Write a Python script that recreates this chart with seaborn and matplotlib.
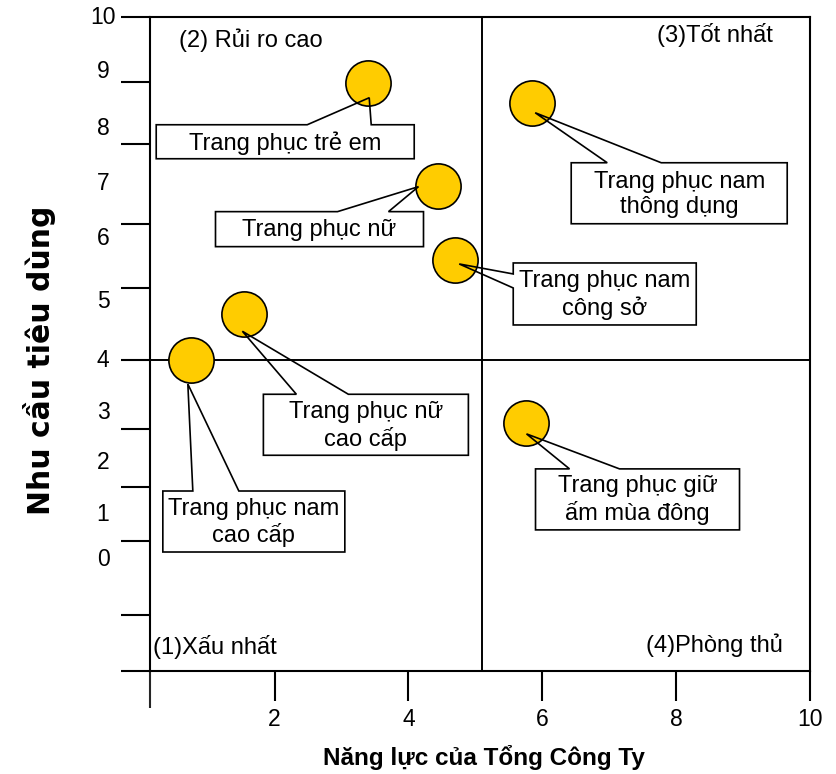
import matplotlib
matplotlib.use("Agg")
import matplotlib.pyplot as plt
import matplotlib.transforms as mtransforms
from matplotlib.patches import Polygon, Rectangle
import pandas as pd
import seaborn as sns

# Product groups positioned by company competence (x) and consumer demand (y)
products = [
    "Trang phục trẻ em",
    "Trang phục nam\nthông dụng",
    "Trang phục nữ",
    "Trang phục nam\ncông sở",
    "Trang phục nữ\ncao cấp",
    "Trang phục nam\ncao cấp",
    "Trang phục giữ\nấm mùa đông",
]
competence = [3.4, 5.85, 4.45, 4.7, 1.55, 0.75, 5.75]
demand = [8.85, 8.5, 7.05, 5.75, 4.8, 4.0, 2.9]

x_ticks = [2, 4, 6, 8, 10]
y_tick_labels = ["10", "9", "8", "7", "6", "5", "4", "3", "2", "1", "0"]
quadrant_labels = ["(1)Xấu nhất", "(2) Rủi ro cao", "(3)Tốt nhất", "(4)Phòng thủ"]
x_split = 5.1
y_split = 4.0

x_title = "Năng lực của Tổng Công Ty"
y_title = "Nhu cầu tiêu dùng"

# ---- layout (hand-drawn axis: tick marks and labels are not evenly spaced) ----
X_LIM = (0.14, 10.0)
Y_LIM = (-1.44, 10.0)
y_mark_pos = [10.0, 8.863, 7.779, 6.379, 5.26, 4.0, 2.793, 1.779, 0.834, -0.46, -1.44]
y_label_pos = [10.0, 9.038, 8.058, 7.096, 6.134, 5.015, 4.0, 3.09, 2.199, 1.289, 0.502]

# callout geometry in pixels relative to each bubble centre (y grows downward):
# box (x0, y0, x1, y1), wedge base on 'top' or 'left' edge, wedge tip
callouts = [
    dict(box=(-212, 42, 46, 76), side="top", base=(-61, 3), tip=(1, 15)),
    dict(box=(39, 60, 255, 121), side="top", base=(75, 129), tip=(3, 10)),
    dict(box=(-223, 26, -15, 61), side="top", base=(-101, -50), tip=(-20, 1)),
    dict(box=(58, 3, 241, 65), side="left", base=(14, 28), tip=(4, 4)),
    dict(box=(19, 80, 224, 141), side="top", base=(52, 104), tip=(-2, 17)),
    dict(box=(-28, 131, 154, 192), side="top", base=(2, 48), tip=(-3, 24)),
    dict(box=(10, 46, 214, 107), side="top", base=(44, 94), tip=(1, 11)),
]

sns.set_theme(style="white")
plt.rcParams["font.family"] = ["Liberation Sans", "DejaVu Sans"]

W, H = 836, 774
fig = plt.figure(figsize=(W / 100, H / 100), dpi=100)
ax = fig.add_axes([150 / W, (H - 671) / H, 660 / W, 654 / H])

df = pd.DataFrame({"product": products, "competence": competence, "demand": demand})

# quadrant dividers
ax.axvline(x_split, color="black", lw=1.4, zorder=2)
ax.axhline(y_split, color="black", lw=1.4, zorder=2)

sns.scatterplot(data=df, x="competence", y="demand", s=1060, color="#FFCC00",
                edgecolor="black", linewidth=1.2, ax=ax, zorder=4, legend=False)

ax.set_xlim(*X_LIM)
ax.set_ylim(*Y_LIM)
ax.set_xlabel("")
ax.set_ylabel("")

for sp in ax.spines.values():
    sp.set_visible(True)
    sp.set_color("black")
    sp.set_linewidth(1.5)

tick_fs = 16.5
ax.set_xticks(x_ticks)
ax.set_xticklabels([str(t) for t in x_ticks])
ax.set_xticks([X_LIM[0]], minor=True)
ax.tick_params(axis="x", which="major", direction="out", length=21.6, width=1.5,
               pad=5, labelsize=tick_fs, colors="black", bottom=True)
ax.tick_params(axis="x", which="minor", direction="out", length=26.6, width=1.5,
               bottom=True)
ax.set_yticks(y_mark_pos)
ax.set_yticklabels([""] * len(y_mark_pos))
ax.tick_params(axis="y", direction="out", length=20.9, width=1.5, left=True,
               colors="black")

ytrans = ax.get_yaxis_transform()
for lab, pos in zip(y_tick_labels, y_label_pos):
    ax.text(-0.0712, pos, lab, transform=ytrans, ha="center", va="center",
            fontsize=tick_fs, color="black")


def px(xp, yp):
    """figure pixel (y measured from top) -> axes fraction"""
    return (xp - 150) / 660, 1 - (yp - 17) / 654


# quadrant names
qfs = 17
for lab, (xp, yp), ha in zip(quadrant_labels,
                             [(153, 654), (179, 47), (773, 42), (783, 652)],
                             ["left", "left", "right", "right"]):
    ax_x, ax_y = px(xp, yp)
    ax.text(ax_x, ax_y, lab, transform=ax.transAxes, fontsize=qfs, ha=ha,
            va="baseline", color="black")

# callout boxes with wedge pointers
for name, cx, cy, c in zip(products, competence, demand, callouts):
    tr = mtransforms.Affine2D().scale(1, -1) + mtransforms.ScaledTranslation(cx, cy, ax.transData)
    x0, y0, x1, y1 = c["box"]
    tx, ty = c["tip"]
    a, b = c["base"]
    if c["side"] == "top":
        pts = [(x0, y0), (a, y0), (tx, ty), (b, y0), (x1, y0), (x1, y1), (x0, y1)]
    else:
        pts = [(x0, y0), (x1, y0), (x1, y1), (x0, y1), (x0, b), (tx, ty), (x0, a)]
    ax.add_patch(Rectangle((x0, y0), x1 - x0, y1 - y0, transform=tr,
                           facecolor="white", edgecolor="none", zorder=3))
    ax.add_patch(Polygon(pts, closed=True, transform=tr, facecolor="none",
                         edgecolor="black", lw=1.2, zorder=5, joinstyle="miter"))
    ax.text((x0 + x1) / 2, (y0 + y1) / 2 + 1, name, transform=tr, ha="center",
            va="center", fontsize=17, color="black", zorder=6, linespacing=1.2)

fig.text(484 / W, 1 - 757 / H, x_title, ha="center", va="center",
         fontsize=17.5, fontweight="bold", color="black")
fig.text(40 / W, 1 - 360 / H, y_title, ha="center", va="center", rotation=90,
         fontsize=21.5, fontweight="bold", color="black",
         family=["DejaVu Sans", "Liberation Sans"])

fig.savefig("out.png", dpi=100)
